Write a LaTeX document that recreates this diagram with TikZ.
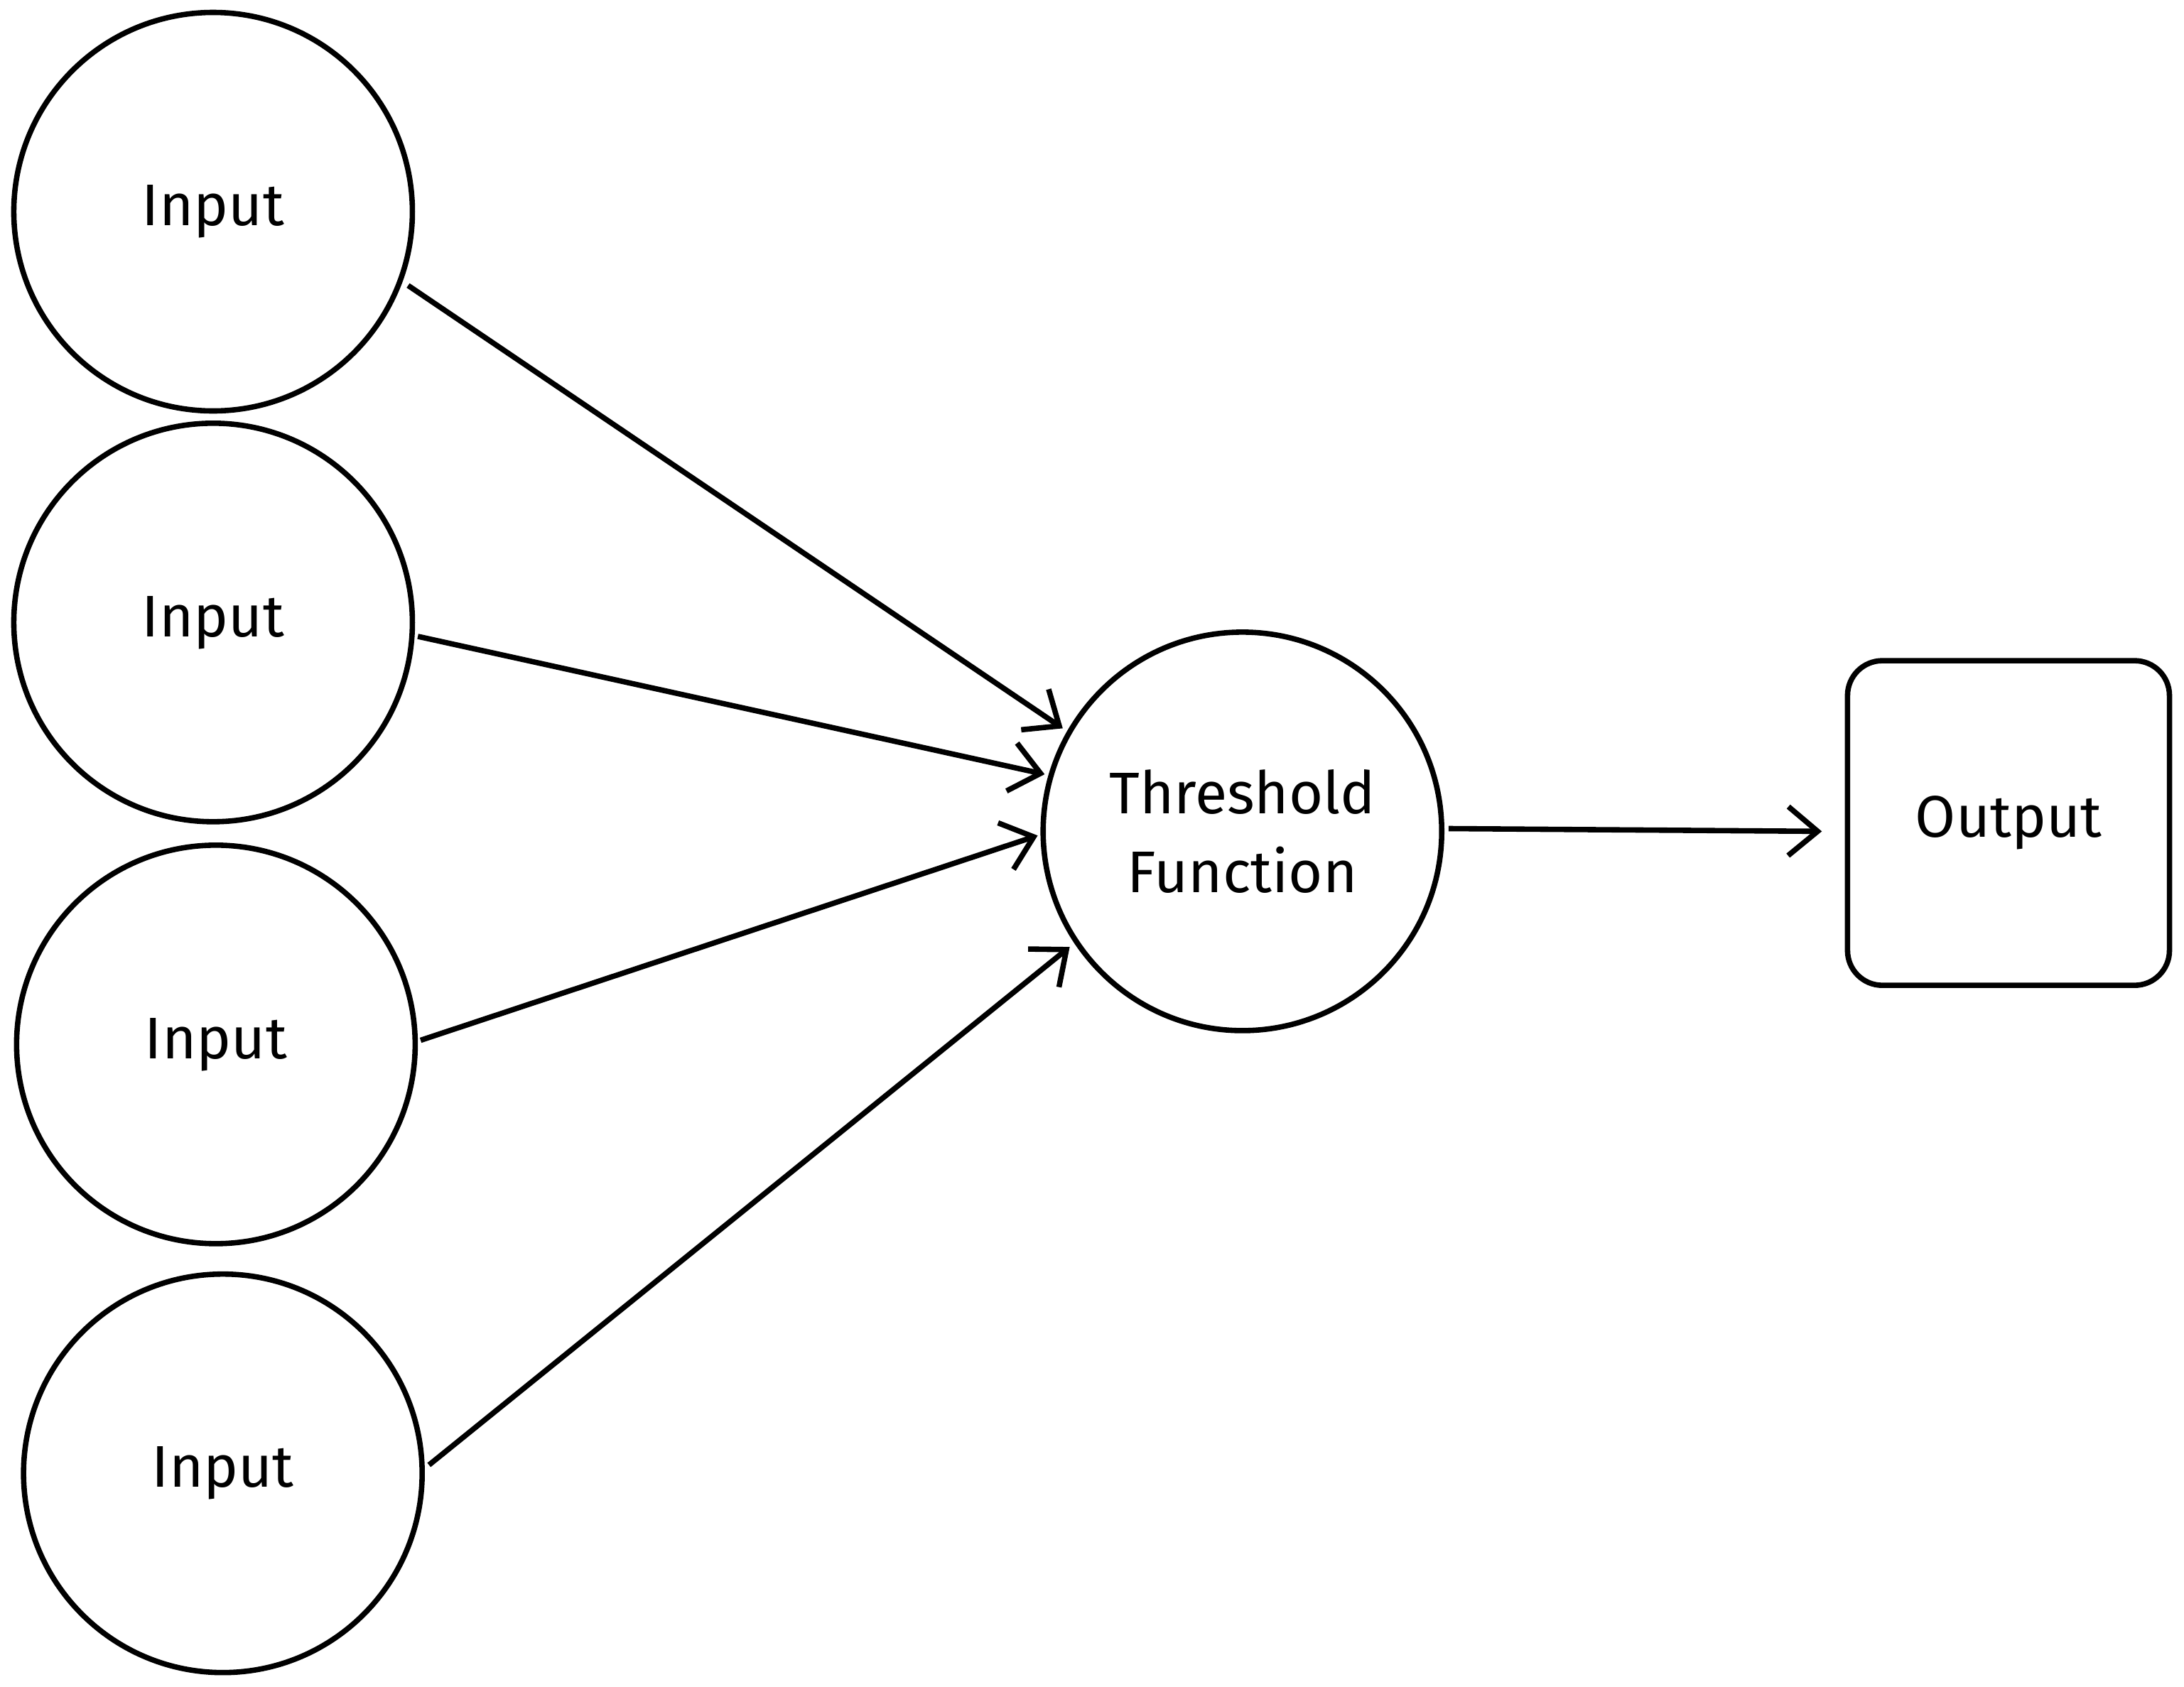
\documentclass[tikz,border=0pt]{standalone}
\usepackage{fontspec}
\setmainfont{Fira Sans}
\usetikzlibrary{arrows.meta}
\begin{document}
\begin{tikzpicture}[x=0.01cm,y=-0.01cm,
  circ/.style={circle,draw,line width=1.1pt,minimum size=2.86cm,inner sep=0pt,align=center,font=\fontsize{12}{16}\selectfont},
  box/.style={rectangle,rounded corners=0.25cm,draw,line width=1.1pt,minimum width=2.31cm,minimum height=2.33cm,font=\fontsize{12}{16}\selectfont},
  conn/.style={line width=1.1pt,-{Straight Barb[length=6pt,width=10pt]}}]
\useasboundingbox (0,0) rectangle (1568,1211);
\node[circ] (i1) at (153,152) {Input};
\node[circ] (i2) at (153,447) {Input};
\node[circ] (i3) at (155,750) {Input};
\node[circ] (i4) at (160,1058) {Input};
\node[circ] (t) at (892,597) {Threshold\\Function};
\node[box] (o) at (1442,591) {Output};
\coordinate (a1) at (293,205); \coordinate (b1) at (763,523);
\coordinate (a2) at (300,457); \coordinate (b2) at (750,556);
\coordinate (a3) at (302,747); \coordinate (b3) at (745,600);
\coordinate (a4) at (308,1052); \coordinate (b4) at (768,680);
\coordinate (a5) at (1040,595); \coordinate (b5) at (1308,597);
\draw[conn] (a1) -- (b1);
\draw[conn] (a2) -- (b2);
\draw[conn] (a3) -- (b3);
\draw[conn] (a4) -- (b4);
\draw[conn] (a5) -- (b5);
\end{tikzpicture}
\end{document}
